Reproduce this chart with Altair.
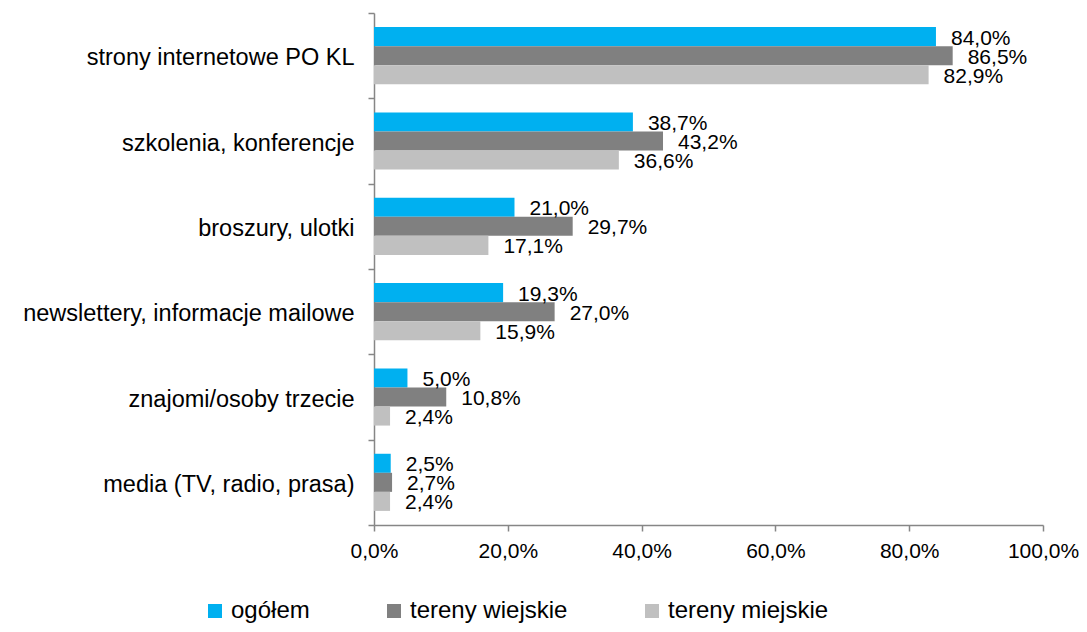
import altair as alt
import pandas as pd

categories = [
    "strony internetowe PO KL",
    "szkolenia, konferencje",
    "broszury, ulotki",
    "newslettery, informacje mailowe",
    "znajomi/osoby trzecie",
    "media (TV, radio, prasa)",
]
series = ["ogółem", "tereny wiejskie", "tereny miejskie"]
colors = ["#00B0F0", "#808080", "#C0C0C0"]

ogolem = [84.0, 38.7, 21.0, 19.3, 5.0, 2.5]
wiejskie = [86.5, 43.2, 29.7, 27.0, 10.8, 2.7]
miejskie = [82.9, 36.6, 17.1, 15.9, 2.4, 2.4]

rows = []
for s, vals in zip(series, [ogolem, wiejskie, miejskie]):
    for c, v in zip(categories, vals):
        rows.append({"kategoria": c, "seria": s, "wartosc": v})
df = pd.DataFrame(rows)

FONT = "Liberation Sans"

y_enc = alt.Y(
    "kategoria:N",
    sort=categories,
    title=None,
    scale=alt.Scale(paddingInner=0, paddingOuter=0),
    axis=alt.Axis(
        tickBand="extent",
        tickSize=6,
        tickColor="#868686",
        domainColor="#868686",
        domainWidth=1.5,
        tickWidth=1.5,
        labelFontSize=23.5,
        labelFont=FONT,
        labelColor="#000000",
        labelPadding=14,
        labelOffset=2,
        labelLimit=400,
    ),
)
yoff = alt.YOffset(
    "seria:N",
    sort=series,
    scale=alt.Scale(paddingInner=0, paddingOuter=0.74),
)
x_enc = alt.X(
    "wartosc:Q",
    title=None,
    scale=alt.Scale(domain=[0, 100]),
    axis=alt.Axis(
        values=[0, 20, 40, 60, 80, 100],
        labelExpr="replace(format(datum.value, '.1f'), '.', ',') + '%'",
        grid=False,
        labelFlush=False,
        tickSize=6,
        tickColor="#868686",
        domainColor="#868686",
        domainWidth=1.5,
        tickWidth=1.5,
        labelFontSize=21,
        labelFont=FONT,
        labelColor="#000000",
        labelPadding=9,
    ),
)

bars = alt.Chart(df).mark_bar().encode(
    x=x_enc,
    y=y_enc,
    yOffset=yoff,
    color=alt.Color(
        "seria:N",
        sort=series,
        scale=alt.Scale(domain=series, range=colors),
        legend=alt.Legend(
            title=None,
            orient="none",
            direction="horizontal",
            legendX=-171,
            legendY=586,
            symbolType="square",
            symbolSize=196,
            symbolStrokeWidth=0,
            labelFontSize=24,
            labelFont=FONT,
            labelColor="#000000",
            labelOffset=4,
            columnPadding=72,
            labelLimit=300,
        ),
    ),
)

labels = alt.Chart(df).transform_calculate(
    etykieta="replace(format(datum.wartosc, '.1f'), '.', ',') + '%'"
).mark_text(
    align="left", baseline="middle", dx=15, dy=2, fontSize=21, font=FONT, color="#000000"
).encode(
    x="wartosc:Q",
    y=alt.Y("kategoria:N", sort=categories),
    yOffset=alt.YOffset("seria:N", sort=series),
    text="etykieta:N",
)

chart = (
    alt.layer(bars, labels)
    .properties(
        width=669,
        height=512,
        autosize=alt.AutoSizeParams(type="none"),
        padding={"left": 366, "top": 5, "right": 36, "bottom": 99},
    )
    .configure_view(stroke=None)
)

chart.save("out.html", embed_options={"renderer": "svg", "actions": False})
